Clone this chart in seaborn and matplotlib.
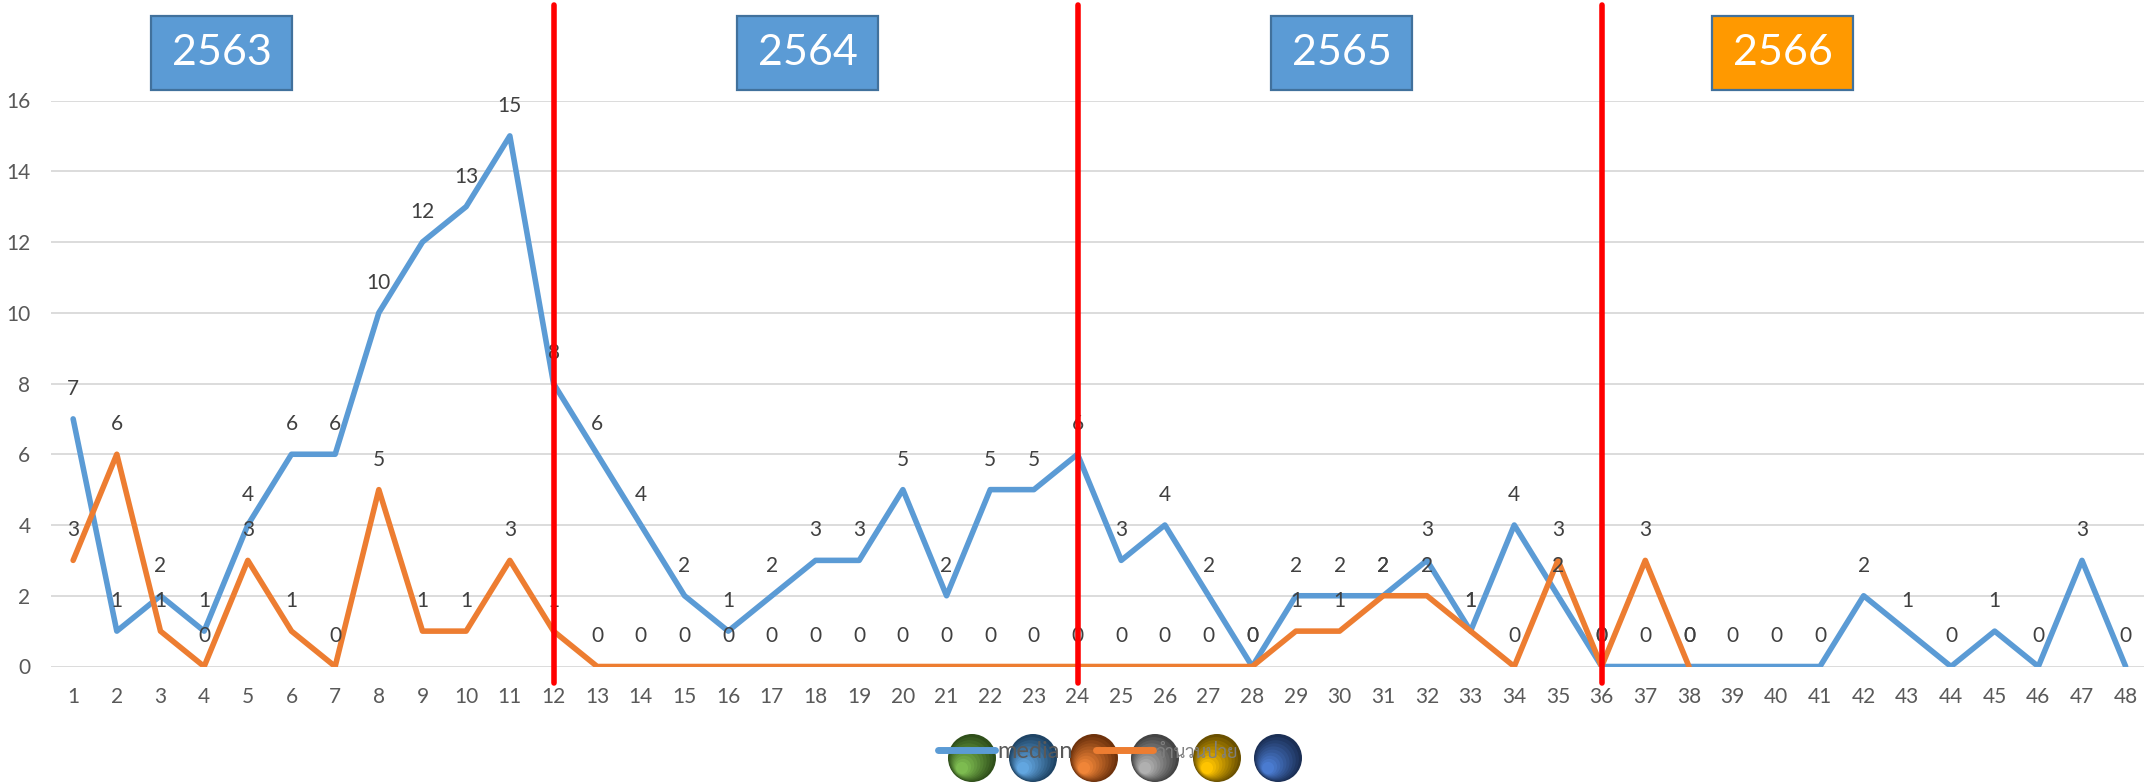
# Weekly cases chart, years 2563-2566

import numpy as np
import pandas as pd
import matplotlib
matplotlib.use("Agg")
import matplotlib.pyplot as plt
import seaborn as sns
from matplotlib.patches import Rectangle, Circle
from matplotlib.colors import to_rgb

# Data

weeks = list(range(1, 49))

median_vals = [7, 1, 2, 1, 4, 6, 6, 10, 12, 13, 15, 8,
               6, 4, 2, 1, 2, 3, 3, 5, 2, 5, 5, 6,
               3, 4, 2, 0, 2, 2, 2, 3, 1, 4, 2, 0,
               0, 0, 0, 0, 0, 2, 1, 0, 1, 0, 3, 0]

sick_vals = [3, 6, 1, 0, 3, 1, 0, 5, 1, 1, 3, 1,
             0, 0, 0, 0, 0, 0, 0, 0, 0, 0, 0, 0,
             0, 0, 0, 0, 1, 1, 2, 2, 1, 0, 3, 0,
             3, 0]

series_names = ["median", "จำนวนป่วย"]
year_labels = ["2563", "2564", "2565", "2566"]
year_breaks = [12, 24, 36]

# Long form table

df = pd.DataFrame({
    "week": weeks + weeks[:len(sick_vals)],
    "value": median_vals + sick_vals,
    "series": [series_names[0]] * len(median_vals) + [series_names[1]] * len(sick_vals),
})

# Style

sns.set_style("white")
plt.rcParams["font.family"] = ["Lato", "Sarabun", "DejaVu Sans"]

blue = "#5B9BD5"
orange = "#ED7D31"

W, H = 2144, 784
fig = plt.figure(figsize=(W / 100, H / 100), dpi=100)

left_px, bottom_px, top_px = 51.3, 666.5, 100.5
ax = fig.add_axes([left_px / W, (H - bottom_px) / H,
                   1 - left_px / W, (bottom_px - top_px) / H])

sns.lineplot(
    data=df,
    x="week",
    y="value",
    hue="series",
    palette=[blue, orange],
    linewidth=4,
    ax=ax,
    legend=True,
)

ax.set_xlim(0.5, 48.42)
ax.set_ylim(0, 16)
ax.set_xticks(weeks)
ax.set_yticks(range(0, 17, 2))
ax.grid(axis="y", color="#D9D9D9", linewidth=1.3)
ax.set_axisbelow(True)
for s in ax.spines.values():
    s.set_visible(False)
ax.tick_params(axis="both", length=0, labelsize=15, labelcolor="#595959")
ax.tick_params(axis="x", pad=15)
ax.tick_params(axis="y", pad=15)
ax.set_xlabel("")
ax.set_ylabel("")

# Data labels

for x, v in zip(weeks, median_vals):
    ax.text(x, v + 0.85, str(v), ha="center", va="center",
            fontsize=15, color="#404040", zorder=6)
for x, v in zip(weeks, sick_vals):
    ax.text(x, v + 0.85, str(v), ha="center", va="center",
            fontsize=15, color="#404040", zorder=6)

# Year separators

for b in year_breaks:
    ax.axvline(b, ymin=-16 / 566, ymax=(666.5 - 5) / 566,
               color="#FF0000", linewidth=4, clip_on=False, zorder=7)

# Year boxes

box_left = [151, 737, 1271, 1712]
box_colors = ["#5B9BD5", "#5B9BD5", "#5B9BD5", "#FF9900"]
bw, bh, btop = 141, 74, 16
for lab, bx, bc in zip(year_labels, box_left, box_colors):
    fig.add_artist(Rectangle((bx / W, (H - btop - bh) / H), bw / W, bh / H,
                             transform=fig.transFigure, facecolor=bc,
                             edgecolor="#41719C", linewidth=1.6))
    fig.text((bx + bw / 2) / W, (H - btop - bh / 2) / H, lab,
             ha="center", va="center", color="white", fontsize=31)

# Legend with the odd sphere markers behind it

sphere_cols = [("#7DBB50", "#2F4F1A"), ("#62A6E0", "#1F4465"),
               ("#F08538", "#6E320C"), ("#B0B0B0", "#444444"),
               ("#FFC400", "#6A5000"), ("#4A7BD0", "#1B2F55")]
sphere_x = [972, 1033, 1094, 1155, 1217, 1278]
r = 24
for cx, (light, dark) in zip(sphere_x, sphere_cols):
    lc, dc = np.array(to_rgb(light)), np.array(to_rgb(dark))
    steps = 10
    for i in range(steps):
        t = i / (steps - 1)
        rr = r * (1 - 0.75 * t)
        off = (r - rr) * 0.55
        col = dc + (lc - dc) * t
        fig.add_artist(Circle(((cx - off) / 100, (H - 758 - off) / 100), rr / 100,
                              transform=fig.dpi_scale_trans, facecolor=col,
                              edgecolor="none", zorder=1))

handles, labels = ax.get_legend_handles_labels()
ax.legend_.remove()
leg = fig.legend(handles, labels, loc="center left",
                 bbox_to_anchor=(938 / W, (H - 752) / H), ncol=2,
                 frameon=False, fontsize=17, handlelength=2.4,
                 handletextpad=0.1, columnspacing=1.0,
                 borderpad=0, borderaxespad=0)
for line in leg.get_lines():
    line.set_linewidth(5)
texts = leg.get_texts()
texts[0].set_color("#595959")
texts[1].set_color("#7F7F7F")
texts[1].set_fontsize(13)
leg.set_zorder(3)

fig.savefig("out.png", dpi=100)
